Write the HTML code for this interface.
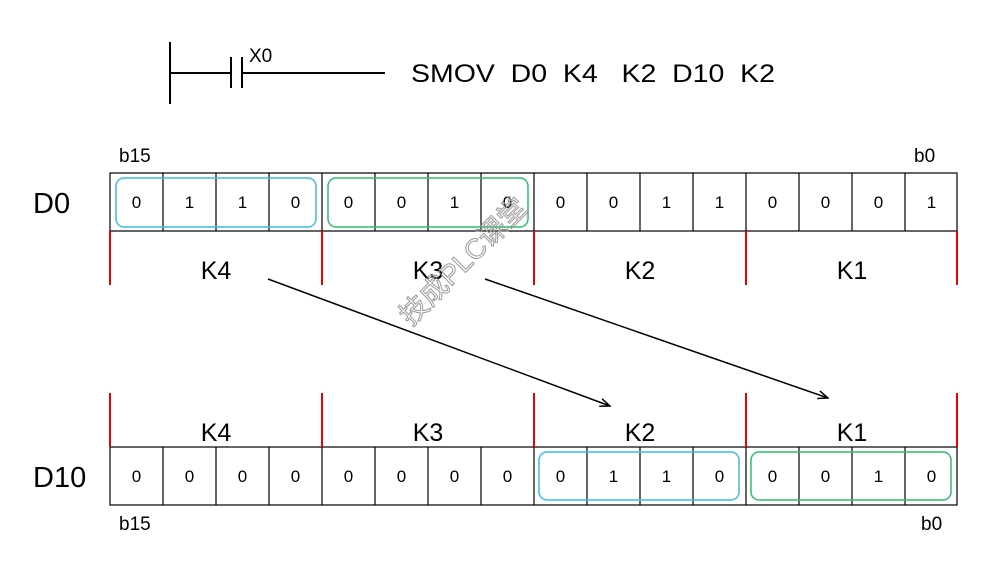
<!DOCTYPE html>
<html><head><meta charset="utf-8"><style>
html,body{margin:0;padding:0;background:#fff;}
svg{display:block;font-family:"Liberation Sans","Noto Sans CJK SC",sans-serif;}
</style></head><body>
<svg width="982" height="576" viewBox="0 0 982 576" xmlns="http://www.w3.org/2000/svg">
<defs><marker id="ah" markerWidth="12" markerHeight="10" refX="11" refY="5" orient="auto" markerUnits="userSpaceOnUse"><path d="M1,1 L11,5 L1,9" fill="none" stroke="#000" stroke-width="1.5"/></marker></defs>
<g stroke="#000" stroke-width="2" fill="none">
<line x1="170" y1="42" x2="170" y2="104"/>
<line x1="170" y1="73" x2="231" y2="73"/>
<line x1="231" y1="57" x2="231" y2="88"/>
<line x1="242" y1="57" x2="242" y2="88"/>
<line x1="242" y1="73" x2="385" y2="73"/>
</g>
<text x="249" y="62" font-size="19">X0</text>
<text x="411" y="82" font-size="25" textLength="364" lengthAdjust="spacingAndGlyphs" xml:space="preserve">SMOV  D0  K4   K2  D10  K2</text>
<text x="119" y="162" font-size="19">b15</text>
<text x="914" y="162" font-size="19">b0</text>
<text x="33" y="213" font-size="29">D0</text>
<text x="33" y="487" font-size="29">D10</text>
<text x="119" y="530" font-size="19">b15</text>
<text x="921" y="530" font-size="19">b0</text>
<g stroke="#000" stroke-width="1.2" fill="none">
<rect x="110" y="173" width="847" height="58"/>
<rect x="110" y="447" width="847" height="58"/>
<path d="M163,173V231M216,173V231M269,173V231M322,173V231M375,173V231M428,173V231M481,173V231M534,173V231M587,173V231M640,173V231M693,173V231M746,173V231M799,173V231M852,173V231M905,173V231"/>
<path d="M163,447V505M216,447V505M269,447V505M322,447V505M375,447V505M428,447V505M481,447V505M534,447V505M587,447V505M640,447V505M693,447V505M746,447V505M799,447V505M852,447V505M905,447V505"/>
</g>
<rect x="116" y="178" width="200" height="49" rx="8" fill="none" stroke="#3bbbe9" stroke-width="1.5"/>
<rect x="328" y="178" width="200" height="49" rx="8" fill="none" stroke="#2ebd6b" stroke-width="1.5"/>
<rect x="539" y="452" width="200" height="48" rx="8" fill="none" stroke="#3bbbe9" stroke-width="1.5"/>
<rect x="751" y="452" width="200" height="48" rx="8" fill="none" stroke="#2ebd6b" stroke-width="1.5"/>
<g font-size="17" text-anchor="middle">
<text x="136.5" y="208">0</text><text x="189.5" y="208">1</text><text x="242.5" y="208">1</text><text x="295.5" y="208">0</text>
<text x="348.5" y="208">0</text><text x="401.5" y="208">0</text><text x="454.5" y="208">1</text><text x="507.5" y="208">0</text>
<text x="560.5" y="208">0</text><text x="613.5" y="208">0</text><text x="666.5" y="208">1</text><text x="719.5" y="208">1</text>
<text x="772.5" y="208">0</text><text x="825.5" y="208">0</text><text x="878.5" y="208">0</text><text x="931.5" y="208">1</text>
<text x="136.5" y="482">0</text><text x="189.5" y="482">0</text><text x="242.5" y="482">0</text><text x="295.5" y="482">0</text>
<text x="348.5" y="482">0</text><text x="401.5" y="482">0</text><text x="454.5" y="482">0</text><text x="507.5" y="482">0</text>
<text x="560.5" y="482">0</text><text x="613.5" y="482">1</text><text x="666.5" y="482">1</text><text x="719.5" y="482">0</text>
<text x="772.5" y="482">0</text><text x="825.5" y="482">0</text><text x="878.5" y="482">1</text><text x="931.5" y="482">0</text>
</g>
<g stroke="#e00" stroke-width="2">
<path d="M110,231V285M322,231V285M534,231V285M746,231V285M957,231V285"/>
<path d="M110,393V447M322,393V447M534,393V447M746,393V447M957,393V447"/>
</g>
<g font-size="25" text-anchor="middle">
<text x="216" y="279">K4</text><text x="428" y="279">K3</text><text x="640" y="279">K2</text><text x="852" y="279">K1</text>
<text x="216" y="441">K4</text><text x="428" y="441">K3</text><text x="640" y="441">K2</text><text x="852" y="441">K1</text>
</g>
<line x1="268" y1="279" x2="610" y2="406" stroke="#000" stroke-width="1.5" marker-end="url(#ah)"/>
<line x1="485" y1="279" x2="828" y2="398" stroke="#000" stroke-width="1.5" marker-end="url(#ah)"/>
<text x="470" y="268" font-size="28" fill="none" stroke="#999" stroke-width="1" text-anchor="middle" transform="rotate(-45 470 268)">技成PLC课堂</text>
</svg>
</body></html>
